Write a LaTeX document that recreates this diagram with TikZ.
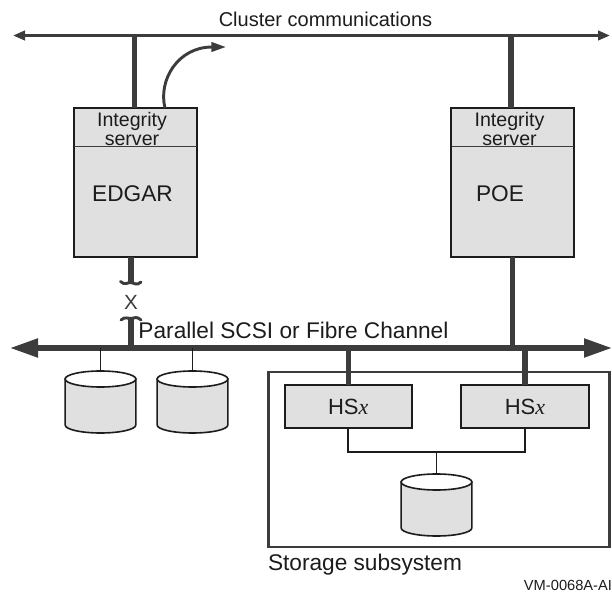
\documentclass[tikz,border=0pt]{standalone}
\usepackage{fontspec}
\setmainfont{Liberation Sans}
\usepackage{xcolor}
\usetikzlibrary{arrows.meta, positioning}
\definecolor{boxgray}{HTML}{E0E0E0}
\definecolor{buscolor}{HTML}{3C3C3C}
\definecolor{edgecolor}{HTML}{1C1C1C}

\begin{document}
\begin{tikzpicture}[x=0.75pt,y=-0.75pt,node distance=60pt,auto]
  \tikzstyle{every node}=[inner sep=0pt,outer sep=0pt,text=edgecolor]
  \tikzstyle{graybox}=[draw=edgecolor,line width=1.6pt,fill=boxgray]
  \tikzstyle{server}=[graybox,minimum width=92pt,minimum height=111.5pt]
  \tikzstyle{hsbox}=[graybox,minimum width=95.5pt,minimum height=32pt,font=\fontsize{16.5}{20}\selectfont]
  \tikzstyle{disk}=[minimum width=53pt,minimum height=46.5pt]
  \tikzstyle{diskline}=[draw=edgecolor,line width=1.2pt]
  \tikzstyle{thinbus}=[draw=buscolor,line width=2.2pt,{Triangle[length=9pt,width=7pt]}-{Triangle[length=9pt,width=7pt]}]
  \tikzstyle{thickbus}=[draw=buscolor,line width=3.8pt,{Triangle[length=21pt,width=13.5pt]}-{Triangle[length=21pt,width=13.5pt]}]
  \tikzstyle{stem}=[draw=buscolor,line width=3.8pt]
  \tikzstyle{wire}=[draw=edgecolor,line width=1.3pt]
  \tikzstyle{small}=[font=\fontsize{14.7}{14.2}\selectfont,align=center]
  \tikzstyle{label}=[font=\fontsize{15}{18}\selectfont]
  \tikzstyle{big}=[font=\fontsize{17}{20}\selectfont]

  \useasboundingbox (0,0) rectangle (612,593);

  % busses
  \coordinate (clusterL) at (13,35.5);
  \coordinate (clusterR) at (610,35.5);
  \coordinate (scsiL) at (10,348);
  \coordinate (scsiR) at (612,348);
  \node[label] (clusterlabel) at (325.5,19) {Cluster communications};
  \node[big,anchor=west] (scsilabel) at (138.5,330) {Parallel SCSI or Fibre Channel};

  % servers
  \node[server] (edgar) at (135.25,182.75) {};
  \node[server] (poe) at (512.75,182.75) {};
  \coordinate (edgarDivL) at (74,146.5);
  \coordinate (edgarDivR) at (196.5,146.5);
  \coordinate (poeDivL) at (452,146.5);
  \coordinate (poeDivR) at (574,146.5);
  \node[small] (edgartop) at (132,129) {Integrity\\server};
  \node[small] (poetop) at (509.5,129) {Integrity\\server};
  \node[big] (edgarname) at (132.5,194) {EDGAR};
  \node[big] (poename) at (500,194) {POE};

  % storage
  \node[draw=buscolor,line width=1.9pt,minimum width=256pt,minimum height=131.5pt] (subsystem) at (439,459.5) {};
  \node[hsbox] (hsl) at (348.25,406.5) {HS\textit{\fontspec{Liberation Serif}x}};
  \node[hsbox] (hsr) at (525,406.5) {HS\textit{\fontspec{Liberation Serif}x}};
  \node[big,anchor=north west] (subsystemlabel) at (268,554) {Storage subsystem};
  \node[font=\fontsize{11}{13}\selectfont,anchor=east] (figid) at (612,585) {VM-0068A-AI};

  % disks
  \node[disk] (diskA) at (100.5,402) {};
  \node[disk] (diskB) at (192.5,402) {};
  \node[disk] (diskC) at (436.5,505) {};
  \foreach \d in {diskA,diskB,diskC} {
    \draw[diskline,fill=boxgray] ([yshift=-6pt]\d.north west) -- ([yshift=6pt]\d.south west)
      arc[start angle=180,end angle=360,x radius=26.5pt,y radius=6pt]
      -- ([yshift=-6pt]\d.north east) -- cycle;
    \draw[diskline,fill=white] ([yshift=-6pt]\d.north) ellipse [x radius=26.5pt,y radius=6pt];
  }

  \coordinate (arcend) at (226,47);
  \coordinate (arcstart) at (165,108);
  \coordinate (breaktop) at (131,283);
  \coordinate (breakbot) at (131,319);
  \node[font=\fontsize{15.4}{18}\selectfont,text=buscolor] (cut) at (131,302) {X};
  \coordinate (join) at (436.5,452);

  \draw[thinbus] (clusterL) -- (clusterR);
  \draw[thickbus] (scsiL) -- (scsiR);

  \path[stem]
  (134.5,108) -- (134.5,35.5)
  (511,108) -- (511,35.5)
  (poe.south) -- (poe.south |- scsiL)
  (hsl.north) -- (hsl.north |- scsiL)
  (hsr.north) -- (hsr.north |- scsiL)
  (breaktop) -- (edgar.south -| breaktop)
  (breakbot) -- (scsiL -| breakbot)
  ;

  \draw[draw=buscolor,line width=2.2pt,-{Triangle[length=11pt,width=7pt]}]
  (arcstart) .. controls (158,80) and (178,47) .. (arcend);

  % cut marks on the broken link
  \draw[draw=buscolor,line width=2.2pt,line cap=round]
  (120.5,281.5) .. controls (125,286) and (128,282) .. (131,282.5)
  .. controls (134,283) and (137,286) .. (141,282);
  \draw[draw=buscolor,line width=2.2pt,line cap=round]
  (121,320) .. controls (125,316) and (128,319) .. (131,318.5)
  .. controls (134,318) and (137,316) .. (141,320);

  \draw[draw=buscolor,line width=1.2pt] (edgarDivL) -- (edgarDivR);
  \draw[draw=buscolor,line width=1.2pt] (poeDivL) -- (poeDivR);

  \path[wire]
  (diskA.north) -- (diskA.north |- scsiL)
  (diskB.north) -- (diskB.north |- scsiL)
  (hsl.south) |- (join)
  (hsr.south) |- (join)
  (join) -- (diskC.north)
  ;
\end{tikzpicture}
\end{document}
